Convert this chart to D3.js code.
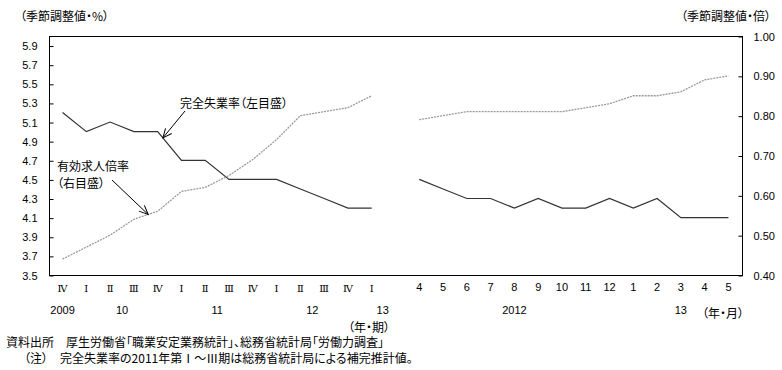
<!DOCTYPE html>
<html>
<head>
<meta charset="utf-8">
<script src="https://cdn.jsdelivr.net/npm/d3@7"></script>
<style>
  body { margin: 0; background: #fff; }
  text { font-family: "Noto Sans CJK JP", sans-serif; font-size: 12px; fill: #000; font-feature-settings: "palt"; }
  .num text, text.num { font-family: "Liberation Sans", Arial, sans-serif; font-size: 11px; font-feature-settings: normal; }
  text.roman { font-family: "DejaVu Serif", serif; font-size: 10px; font-feature-settings: normal; }
</style>
</head>
<body>
<svg id="chart" width="782" height="370"></svg>
<script>

// quarterly part (2009 IV - 2013 I)
const quarterLabels = ['Ⅳ','Ⅰ','Ⅱ','Ⅲ','Ⅳ','Ⅰ','Ⅱ','Ⅲ','Ⅳ','Ⅰ','Ⅱ','Ⅲ','Ⅳ','Ⅰ'];
const quarterUnemployment = [5.2, 5.0, 5.1, 5.0, 5.0, 4.7, 4.7, 4.5, 4.5, 4.5, 4.4, 4.3, 4.2, 4.2];
const quarterJobRatio = [0.44, 0.47, 0.50, 0.54, 0.56, 0.61, 0.62, 0.65, 0.69, 0.74, 0.80, 0.81, 0.82, 0.85];
const quarterYears = [ ['2009', 0, 0], ['10', 1, 4], ['11', 5, 8], ['12', 9, 12], ['13', 13, 13] ];

// monthly part (2012.4 - 2013.5)
const monthLabels = ['4','5','6','7','8','9','10','11','12','1','2','3','4','5'];
const monthUnemployment = [4.5, 4.4, 4.3, 4.3, 4.2, 4.3, 4.2, 4.2, 4.3, 4.2, 4.3, 4.1, 4.1, 4.1];
const monthJobRatio = [0.79, 0.80, 0.81, 0.81, 0.81, 0.81, 0.81, 0.82, 0.83, 0.85, 0.85, 0.86, 0.89, 0.90];
const monthYears = [ ['2012', 0, 8], ['13', 9, 13] ];

const leftTicks  = [3.5, 3.7, 3.9, 4.1, 4.3, 4.5, 4.7, 4.9, 5.1, 5.3, 5.5, 5.7, 5.9];
const rightTicks = [0.40, 0.50, 0.60, 0.70, 0.80, 0.90, 1.00];

//-------------------------------------------------------------------------------

const svg = d3.select('#chart');
const box = { left: 49, right: 742, top: 36, bottom: 275 };

// one slot per category, with an empty slot between the two parts
const qKey = i => 'q' + i, mKey = i => 'm' + i;
const slots = [...quarterLabels.map((_, i) => qKey(i)), 'gap', ...monthLabels.map((_, i) => mKey(i))];

const x = d3.scalePoint().domain(slots).range([box.left, box.right]).padding(0.57);
const yL = d3.scaleLinear().domain([3.5, 6.0]).range([box.bottom, box.top]);
const yR = d3.scaleLinear().domain([0.4, 1.0]).range([box.bottom, box.top]);

// frame
svg.append('rect')
    .attr('x', box.left + 0.5).attr('y', box.top + 0.5)
    .attr('width', box.right - box.left).attr('height', box.bottom - box.top)
    .attr('fill', 'none').attr('stroke', '#000');

// axes, ticks pointing inward
svg.append('g').attr('class', 'num')
    .attr('transform', `translate(${box.left + 0.5},0.5)`)
    .call(d3.axisLeft(yL).tickValues(leftTicks).tickFormat(d3.format('.1f')).tickSize(-4).tickPadding(12))
    .call(g => g.select('.domain').remove());

svg.append('g').attr('class', 'num')
    .attr('transform', `translate(${box.right + 0.5},0.5)`)
    .call(d3.axisRight(yR).tickValues(rightTicks).tickFormat(d3.format('.2f')).tickSize(-4).tickPadding(11))
    .call(g => g.select('.domain').remove());

svg.selectAll('.num text').attr('fill', '#000');
svg.selectAll('.num line').attr('stroke', '#000');

//-------------------------------------------------------------------------------
// lines

const lineL = d3.line().x(d => x(d[0])).y(d => yL(d[1]));
const lineR = d3.line().x(d => x(d[0])).y(d => yR(d[1]));

const seriesParts = [
    { vals: quarterUnemployment, key: qKey, gen: lineL, cls: 'unemp' },
    { vals: monthUnemployment,   key: mKey, gen: lineL, cls: 'unemp' },
    { vals: quarterJobRatio,     key: qKey, gen: lineR, cls: 'ratio' },
    { vals: monthJobRatio,       key: mKey, gen: lineR, cls: 'ratio' },
];

seriesParts.forEach(s => {
    svg.append('path')
        .datum(s.vals.map((v, i) => [s.key(i), v]))
        .attr('d', s.gen)
        .attr('fill', 'none')
        .attr('stroke', s.cls == 'unemp' ? '#333' : '#9a9a9a')
        .attr('stroke-width', s.cls == 'unemp' ? 1.2 : 1.3)
        .attr('stroke-dasharray', s.cls == 'unemp' ? null : '2,1');
});

//-------------------------------------------------------------------------------
// category labels

const yearY = 310;

svg.selectAll('.qlab').data(quarterLabels).join('text')
    .attr('class', 'roman')
    .attr('x', (d, i) => x(qKey(i))).attr('y', 288)
    .attr('text-anchor', 'middle').attr('dominant-baseline', 'central')
    .text(d => d);

svg.selectAll('.mlab').data(monthLabels).join('text')
    .attr('class', 'num')
    .attr('x', (d, i) => x(mKey(i))).attr('y', 287)
    .attr('text-anchor', 'middle').attr('dominant-baseline', 'central')
    .text(d => d);

function YearLabels(groups, key, lastNudge) {
    svg.append('g').selectAll('text').data(groups).join('text')
        .attr('class', 'num')
        .attr('x', d => (x(key(d[1])) + x(key(d[2]))) / 2)
        .attr('dx', (d, i) => i == groups.length - 1 ? lastNudge : 0)
        .attr('y', yearY)
        .attr('text-anchor', 'middle').attr('dominant-baseline', 'central')
        .text(d => d[0]);
}
YearLabels(quarterYears, qKey, 11); // the quarterly '13' sits a little right of its tick
YearLabels(monthYears, mKey, 0);

svg.append('text').attr('x', 390).attr('y', 326).attr('text-anchor', 'end')
    .attr('dominant-baseline', 'central').text('（年・期）');
svg.append('text').attr('x', 744).attr('y', 312).attr('text-anchor', 'end')
    .attr('dominant-baseline', 'central').text('（年・月）');

// unit titles
svg.append('text').attr('x', 20).attr('y', 15).attr('dominant-baseline', 'central').text('（季節調整値・%）');
svg.append('text').attr('x', 771).attr('y', 15).attr('text-anchor', 'end')
    .attr('dominant-baseline', 'central').text('（季節調整値・倍）');

//-------------------------------------------------------------------------------
// annotations with arrows; tip sits on the series line

svg.append('defs').append('marker')
    .attr('id', 'head').attr('viewBox', '-10 -6 12 12')
    .attr('markerWidth', 12).attr('markerHeight', 12).attr('markerUnits', 'userSpaceOnUse')
    .attr('refX', 0).attr('refY', 0).attr('orient', 'auto')
  .append('path').attr('d', 'M-9,-4 L0,0 L-9,4')
    .attr('fill', 'none').attr('stroke', '#000').attr('stroke-width', 1);

function PointOn(vals, key, y, i, t) {
    return [ x(key(i)) + t * (x(key(i + 1)) - x(key(i))),
             y(vals[i] + t * (vals[i + 1] - vals[i])) ];
}

function Callout(lines, textXY, from, tip) {
    const t = svg.append('text').attr('x', textXY[0]).attr('y', textXY[1]);
    lines.forEach((s, k) => t.append('tspan').attr('x', textXY[0]).attr('dy', k ? 17 : 0).text(s));
    svg.append('line')
        .attr('x1', from[0]).attr('y1', from[1]).attr('x2', tip[0]).attr('y2', tip[1])
        .attr('stroke', '#000').attr('stroke-width', 1)
        .attr('marker-end', 'url(#head)');
}

const tipU = PointOn(quarterUnemployment, qKey, yL, 4, 0.22);
Callout(['完全失業率（左目盛）'], [180, 108], [185, 111], tipU);

const tipR = PointOn(quarterJobRatio, qKey, yR, 3, 0.6);
Callout(['有効求人倍率', '（右目盛）'], [57, 171], [112, 180], tipR);

//-------------------------------------------------------------------------------
// source notes

svg.append('text').attr('x', 6).attr('y', 347).text('資料出所　厚生労働省「職業安定業務統計」、総務省統計局「労働力調査」');
svg.append('text').attr('x', 24).attr('y', 363).text('（注）　完全失業率の2011年第Ⅰ～Ⅲ期は総務省統計局による補完推計値。');

</script>
</body>
</html>
